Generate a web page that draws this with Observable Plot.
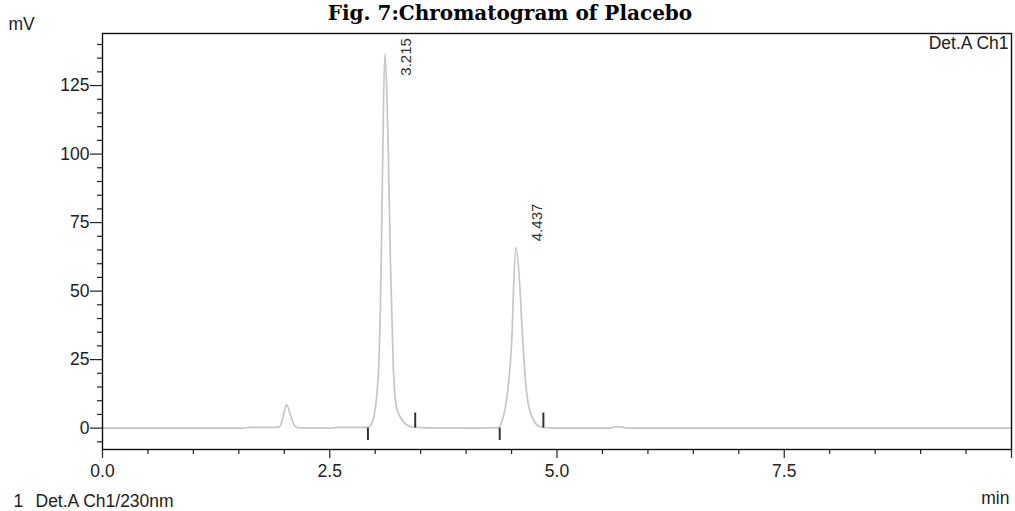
<!DOCTYPE html>
<html><head><meta charset="utf-8">
<script src="https://cdn.jsdelivr.net/npm/d3@7"></script>
<script src="https://cdn.jsdelivr.net/npm/@observablehq/plot@0.6"></script>
<style>body{margin:0;background:#fff} svg{display:block}</style>
</head><body><div id="chart"></div>
<script>
// Chromatogram trace (time in min, signal in mV)
const times  = [0.00, 0.80, 1.55, 1.62, 1.90, 1.95, 1.99, 2.024, 2.07, 2.12, 2.18, 2.50, 2.58, 2.85, 2.93,
                2.967, 3.003, 3.040, 3.066, 3.084, 3.106, 3.143, 3.168, 3.198, 3.234, 3.315, 3.407, 3.55,
                4.00, 4.36, 4.397, 4.433, 4.470, 4.507, 4.525, 4.551, 4.587, 4.617, 4.653, 4.690, 4.745, 4.818,
                4.95, 5.58, 5.64, 5.72, 5.76, 10.0];
const signal = [0.0, 0.0, 0.0, 0.3, 0.3, 0.6, 4.6, 8.6, 4.6, 0.6, 0.1, 0.0, 0.3, 0.3, 0.4,
                2.2, 7.7, 23.6, 60.0, 102.5, 136.5, 102.5, 60.0, 23.6, 7.7, 2.2, 0.4, 0.1,
                0.0, 0.2, 2.8, 7.7, 17.4, 35.6, 53.9, 66.0, 53.9, 35.6, 17.4, 7.7, 2.8, 0.4,
                0.0, 0.0, 0.5, 0.4, 0.0, 0.0];

// Peak labels (retention times) placed at the apex times
const peakTimes  = [3.106, 4.551];
const peakLabels = ["3.215", "4.437"];
const peakLabelY = [128.6, 68.2];

// Integration baseline markers
const markerTimes  = [2.92, 3.44, 4.37, 4.85];
const markerTop    = [0.0, 5.5, 0.0, 5.5];
const markerBottom = [-4.5, 0.0, -4.5, 0.0];

// Axis ticks
const xMajor = [0, 2.5, 5, 7.5];
const xEnd   = [10];
const xMinor = [0.5, 1, 1.5, 2, 3, 3.5, 4, 4.5, 5.5, 6, 6.5, 7, 8, 8.5, 9, 9.5];
const yMajor = [0, 25, 50, 75, 100, 125];
const yMinor = [-5, 5, 10, 15, 20, 30, 35, 40, 45, 55, 60, 65, 70, 80, 85, 90, 95, 105, 110, 115, 120, 130, 135, 140];

const title = "Fig. 7:Chromatogram of Placebo";
const yUnit = "mV";
const xUnit = "min";
const detector = "Det.A Ch1";
const legendNum = "1";
const legendText = "Det.A Ch1/230nm";

const trace = times.map((t, i) => ({t, v: signal[i]}));
const peaks = peakTimes.map((t, i) => ({t, y: peakLabelY[i], label: peakLabels[i]}));
const markers = markerTimes.map((t, i) => ({t, y1: markerBottom[i], y2: markerTop[i]}));

const sans = "'Liberation Sans', Arial, Helvetica, sans-serif";
const ink = "#222";
const fs = 17.5;

const chart = Plot.plot({
  width: 1015,
  height: 511,
  marginLeft: 102,
  marginRight: 4,
  marginTop: 33,
  marginBottom: 62,
  style: {fontFamily: sans, fontSize: fs + "px", color: ink, background: "#fff", overflow: "hidden"},
  x: {domain: [0, 10]},
  y: {domain: [-7.8, 144]},
  marks: [
    Plot.line(trace, {x: "t", y: "v", stroke: "#c6c6c6", strokeWidth: 1.7, curve: "monotone-x"}),
    Plot.ruleX(markers, {x: "t", y1: "y1", y2: "y2", stroke: "#333", strokeWidth: 2}),
    Plot.text(peaks, {x: "t", y: "y", text: "label", rotate: -90, textAnchor: "start", dx: 21,
                      fontSize: 15, fill: "#333", fontFamily: sans}),
    Plot.axisY(yMinor, {anchor: "left", tickSize: 5, tickFormat: () => "", label: null, stroke: ink, strokeWidth: 1.2}),
    Plot.axisY(yMajor, {anchor: "left", tickSize: 12, tickPadding: 1, tickFormat: d => String(d), label: null,
                        fontSize: fs, stroke: ink, strokeWidth: 1.2, fill: ink}),
    Plot.axisX(xMinor, {anchor: "bottom", tickSize: 5, tickFormat: () => "", label: null, stroke: ink, strokeWidth: 1.2}),
    Plot.axisX(xEnd, {anchor: "bottom", tickSize: 9, tickFormat: () => "", label: null, stroke: ink, strokeWidth: 1.2}),
    Plot.axisX(xMajor, {anchor: "bottom", tickSize: 9, tickPadding: 6, tickFormat: d3.format(".1f"), label: null,
                        fontSize: fs, stroke: ink, strokeWidth: 1.2, fill: ink}),
    Plot.frame({stroke: "#111", strokeWidth: 1.4}),
    Plot.text([title], {frameAnchor: "top", lineAnchor: "top", dx: -47, dy: -28, fontFamily: "'DejaVu Serif', serif",
                        fontWeight: "bold", fontSize: 20, fill: "#000"}),
    Plot.text([yUnit], {frameAnchor: "top-left", lineAnchor: "top", textAnchor: "start", dx: -94, dy: -16, fontSize: fs, fill: ink}),
    Plot.text([detector], {frameAnchor: "top-right", lineAnchor: "top", textAnchor: "end", dx: -3, dy: 3, fontSize: fs, fill: ink}),
    Plot.text([xUnit], {frameAnchor: "bottom-right", lineAnchor: "bottom", textAnchor: "end", dx: -2, dy: 54, fontSize: fs, fill: ink}),
    Plot.text([legendNum], {frameAnchor: "bottom-left", lineAnchor: "bottom", textAnchor: "start", dx: -89, dy: 57, fontSize: fs, fill: ink}),
    Plot.text([legendText], {frameAnchor: "bottom-left", lineAnchor: "bottom", textAnchor: "start", dx: -67, dy: 57, fontSize: fs, fill: ink})
  ]
});
document.getElementById("chart").appendChild(chart);
</script></body></html>
